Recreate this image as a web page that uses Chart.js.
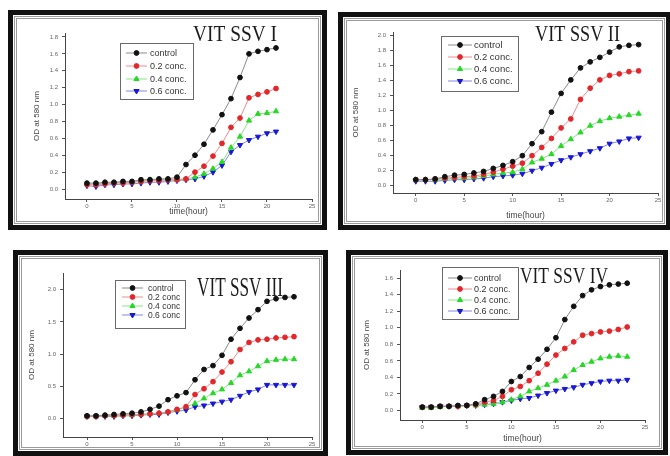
<!DOCTYPE html>
<html>
<head>
<meta charset="utf-8">
<script src="https://cdn.jsdelivr.net/npm/chart.js@4.4.0/dist/chart.umd.min.js"></script>
<style>
  body { margin: 0; width: 670px; height: 456px; background: #fff; position: relative; overflow: hidden; font-family: Arial, 'Liberation Sans', sans-serif; }
  .frame { position: absolute; box-sizing: border-box; border: 5px solid #111; background: #fff; }
  .frame .inner { position: absolute; left: 1px; top: 1px; right: 1px; bottom: 1px; border: 3px double #9a9a9a; }
  canvas { position: absolute; }
</style>
</head>
<body>
<div class="frame" style="left:8px;top:10px;width:319px;height:220px"><div class="inner"></div></div>
<div class="frame" style="left:338px;top:12px;width:333px;height:218px"><div class="inner"></div></div>
<div class="frame" style="left:13px;top:250px;width:315px;height:206px"><div class="inner"></div></div>
<div class="frame" style="left:346px;top:250px;width:322px;height:205px"><div class="inner"></div></div>
<canvas id="c1"></canvas>
<canvas id="c2"></canvas>
<canvas id="c3"></canvas>
<canvas id="c4"></canvas>
<script>
// time points
const hoursA = [0,1,2,3,4,5,6,7,8,9,10,11,12,13,14,15,16,17,18,19,20,21];
const hoursB = [0,1,2,3,4,5,6,7,8,9,10,11,12,13,14,15,16,17,18,19,20,21,22,23];
const xTicks = [0,5,10,15,20,25];

// VIT SSV I
const ssv1Control = [0.07,0.07,0.08,0.08,0.09,0.09,0.11,0.11,0.12,0.12,0.14,0.29,0.40,0.53,0.70,0.88,1.07,1.32,1.60,1.63,1.65,1.67];
const ssv1Conc02 = [0.05,0.05,0.06,0.07,0.07,0.08,0.09,0.10,0.10,0.11,0.11,0.12,0.20,0.27,0.39,0.54,0.73,0.84,1.08,1.12,1.15,1.19];
const ssv1Conc04 = [0.06,0.06,0.07,0.07,0.08,0.08,0.09,0.11,0.11,0.11,0.11,0.12,0.14,0.18,0.24,0.32,0.49,0.62,0.81,0.89,0.90,0.92];
const ssv1Conc06 = [0.04,0.03,0.05,0.05,0.06,0.06,0.07,0.08,0.08,0.09,0.10,0.11,0.12,0.15,0.20,0.28,0.44,0.52,0.58,0.62,0.66,0.68];
const ssv1YTicks = [0,0.2,0.4,0.6,0.8,1.0,1.2,1.4,1.6,1.8];

// VIT SSV II
const ssv2Control = [0.08,0.08,0.09,0.12,0.14,0.15,0.17,0.19,0.23,0.27,0.32,0.40,0.56,0.72,0.98,1.23,1.41,1.57,1.65,1.71,1.78,1.85,1.87,1.88];
const ssv2Conc02 = [0.08,0.08,0.09,0.10,0.11,0.12,0.13,0.15,0.18,0.22,0.26,0.30,0.40,0.51,0.63,0.77,0.89,1.15,1.30,1.41,1.47,1.49,1.52,1.53];
const ssv2Conc04 = [0.08,0.08,0.08,0.09,0.10,0.10,0.11,0.13,0.15,0.17,0.18,0.22,0.31,0.36,0.42,0.53,0.62,0.71,0.80,0.86,0.90,0.92,0.94,0.96];
const ssv2Conc06 = [0.06,0.06,0.06,0.07,0.08,0.08,0.09,0.10,0.12,0.13,0.14,0.16,0.20,0.24,0.29,0.34,0.38,0.42,0.46,0.50,0.56,0.59,0.63,0.64];
const ssv2YTicks = [0,0.2,0.4,0.6,0.8,1.0,1.2,1.4,1.6,1.8,2.0];

// VIT SSV III
const ssv3Control = [0.04,0.04,0.05,0.06,0.07,0.08,0.10,0.14,0.19,0.29,0.35,0.40,0.60,0.76,0.82,0.98,1.23,1.40,1.56,1.69,1.82,1.86,1.88,1.89];
const ssv3Conc02 = [0.03,0.03,0.04,0.04,0.05,0.06,0.06,0.07,0.08,0.10,0.14,0.18,0.37,0.46,0.57,0.72,0.88,1.07,1.18,1.22,1.23,1.25,1.26,1.27];
const ssv3Conc04 = [0.03,0.03,0.04,0.04,0.05,0.05,0.06,0.07,0.08,0.10,0.13,0.18,0.23,0.31,0.39,0.45,0.55,0.67,0.73,0.81,0.89,0.91,0.92,0.92];
const ssv3Conc06 = [0.03,0.03,0.03,0.03,0.04,0.04,0.05,0.06,0.06,0.09,0.11,0.13,0.18,0.20,0.23,0.26,0.29,0.35,0.41,0.45,0.52,0.52,0.52,0.52];
const ssv3YTicks = [0,0.5,1.0,1.5,2.0];

// VIT SSV IV
const ssv4Control = [0.04,0.04,0.05,0.05,0.06,0.06,0.08,0.13,0.17,0.23,0.35,0.41,0.52,0.62,0.74,0.88,1.10,1.26,1.39,1.46,1.50,1.52,1.53,1.54];
const ssv4Conc02 = [0.04,0.04,0.05,0.05,0.05,0.06,0.07,0.10,0.12,0.17,0.25,0.29,0.36,0.45,0.56,0.67,0.75,0.83,0.91,0.93,0.95,0.96,0.98,1.01];
const ssv4Conc04 = [0.03,0.03,0.04,0.05,0.05,0.06,0.06,0.07,0.08,0.10,0.13,0.17,0.23,0.27,0.31,0.36,0.41,0.49,0.55,0.59,0.63,0.65,0.66,0.65];
const ssv4Conc06 = [0.04,0.04,0.05,0.05,0.05,0.06,0.06,0.07,0.08,0.10,0.12,0.14,0.15,0.18,0.21,0.24,0.26,0.28,0.31,0.33,0.35,0.36,0.36,0.37];
const ssv4YTicks = [0,0.2,0.4,0.6,0.8,1.0,1.2,1.4,1.6];

const labelsDot = ['control', '0.2 conc.', '0.4 conc.', '0.6 conc.'];
const labelsNoDot = ['control', '0.2 conc', '0.4 conc', '0.6 conc'];

// series look (Origin defaults)
const styles = [
  { line: '#8a8a8a', mark: '#111111', shape: 'circle', r: 2.4, rot: 0 },
  { line: '#ef8c8c', mark: '#e2262a', shape: 'circle', r: 2.4, rot: 0 },
  { line: '#86e486', mark: '#26d826', shape: 'triangle', r: 3, rot: 0 },
  { line: '#8484ea', mark: '#1818d2', shape: 'triangle', r: 3, rot: 180 },
];

// draws the boxed legend and the big serif title inside the plot
const overlay = {
  id: 'overlay',
  afterDraw(chart, args, o) {
    const ctx = chart.ctx;
    const ox = o.ox, oy = o.oy;
    ctx.save();
    const b = o.box;
    ctx.fillStyle = '#fff';
    ctx.fillRect(b.x - ox, b.y - oy, b.w, b.h);
    ctx.strokeStyle = '#6a6a6a';
    ctx.lineWidth = 1;
    ctx.strokeRect(b.x - ox + 0.5, b.y - oy + 0.5, b.w, b.h);
    ctx.font = o.legendSize + 'px Arial';
    ctx.textBaseline = 'middle';
    chart.data.datasets.forEach((ds, i) => {
      const y = o.rows[i] - oy;
      ctx.strokeStyle = ds.borderColor;
      ctx.lineWidth = 1;
      ctx.beginPath();
      ctx.moveTo(o.lineX[0] - ox, y);
      ctx.lineTo(o.lineX[1] - ox, y);
      ctx.stroke();
      ctx.fillStyle = ds.pointBackgroundColor;
      ctx.strokeStyle = ds.pointBorderColor;
      Chart.helpers.drawPoint(ctx, { pointStyle: ds.pointStyle, rotation: ds.pointRotation, radius: ds.pointRadius, borderWidth: 1 },
        (o.lineX[0] + o.lineX[1]) / 2 - ox, y);
      ctx.fillStyle = '#333';
      ctx.fillText(ds.label, o.textX - ox, y + 0.5);
    });
    const t = o.title;
    ctx.font = t.size + 'px "Liberation Serif", "Times New Roman", serif';
    ctx.textBaseline = 'alphabetic';
    const w = ctx.measureText(t.text).width;
    ctx.translate(t.x - ox, t.base - oy);
    ctx.scale(t.w / w, 1);
    ctx.fillStyle = '#1c1c1c';
    ctx.fillText(t.text, 0, 0);
    ctx.restore();
  }
};

function makeChart(id, p) {
  const cv = document.getElementById(id);
  cv.width = p.canvas.w; cv.height = p.canvas.h;
  cv.style.left = p.canvas.x + 'px'; cv.style.top = p.canvas.y + 'px';
  cv.style.width = p.canvas.w + 'px'; cv.style.height = p.canvas.h + 'px';

  const yTitleSize = 8, xTitleSize = 8.5;
  const padLeft = p.yTitleX - yTitleSize * 1.2 / 2 - p.canvas.x;
  const yW = p.area.l - p.canvas.x - padLeft;
  const padTop = p.area.t - p.canvas.y;
  const padRight = p.canvas.x + p.canvas.w - p.area.r;
  const xH = p.xTitleY ? p.xTitleY + xTitleSize * 1.2 / 2 - p.area.b : 14;
  const padBottom = p.canvas.y + p.canvas.h - p.area.b - xH;

  const datasets = p.series.map((vals, i) => ({
    label: p.labels[i],
    data: vals.map((v, k) => ({ x: p.hours[k], y: v })),
    borderColor: styles[i].line,
    borderWidth: 1,
    pointBackgroundColor: styles[i].mark,
    pointBorderColor: styles[i].mark,
    pointStyle: styles[i].shape,
    pointRadius: styles[i].r,
    pointRotation: styles[i].rot,
    tension: 0,
  }));

  const axisGrid = { display: true, drawOnChartArea: false, drawTicks: true, tickLength: 3, color: '#555' };
  const tickFont = { family: 'Arial', size: 6 };

  new Chart(cv, {
    type: 'line',
    data: { datasets },
    plugins: [overlay],
    options: {
      responsive: false,
      animation: false,
      layout: { padding: { left: padLeft, top: padTop, right: padRight, bottom: padBottom } },
      scales: {
        x: {
          type: 'linear', min: p.xRange[0], max: p.xRange[1],
          afterBuildTicks: s => { s.ticks = xTicks.map(v => ({ value: v })); },
          afterFit: s => { s.height = xH; },
          grid: axisGrid,
          border: { display: true, color: '#444', width: 1 },
          ticks: { font: tickFont, color: '#666', padding: 1, maxRotation: 0, callback: v => String(v) },
          title: { display: !!p.xTitleY, text: 'time(hour)', color: '#444', padding: 0, font: { family: 'Arial', size: xTitleSize } },
        },
        y: {
          min: p.yRange[0], max: p.yRange[1],
          afterBuildTicks: s => { s.ticks = p.yTicks.map(v => ({ value: v })); },
          afterFit: s => { s.width = yW; },
          grid: axisGrid,
          border: { display: true, color: '#444', width: 1 },
          ticks: { font: tickFont, color: '#666', padding: 4, callback: v => v.toFixed(1) },
          title: { display: true, text: 'OD at 580 nm', color: '#444', padding: 0, font: { family: 'Arial', size: yTitleSize } },
        },
      },
      plugins: {
        legend: { display: false },
        tooltip: { enabled: false },
        overlay: Object.assign({ ox: p.canvas.x, oy: p.canvas.y }, p.legend, { title: p.title }),
      },
    },
  });
}

makeChart('c1', {
  canvas: { x: 13, y: 15, w: 309, h: 210 },
  area: { l: 65, r: 312, t: 33, b: 199 },
  yTitleX: 37, xTitleY: 212,
  xRange: [-2.44, 25], yRange: [-0.118, 1.847], yTicks: ssv1YTicks,
  hours: hoursA, series: [ssv1Control, ssv1Conc02, ssv1Conc04, ssv1Conc06], labels: labelsDot,
  legend: { box: { x: 120, y: 43, w: 73, h: 56 }, rows: [53, 66, 79, 91], lineX: [126, 147], textX: 150, legendSize: 9 },
  title: { text: 'VIT SSV I', x: 193, base: 41, w: 84, size: 24 },
});

makeChart('c2', {
  canvas: { x: 343, y: 17, w: 322, h: 208 },
  area: { l: 393, r: 658, t: 32, b: 193 },
  yTitleX: 356, xTitleY: 216,
  xRange: [-2.35, 25], yRange: [-0.097, 2.048], yTicks: ssv2YTicks,
  hours: hoursB, series: [ssv2Control, ssv2Conc02, ssv2Conc04, ssv2Conc06], labels: labelsDot,
  legend: { box: { x: 441, y: 36, w: 77, h: 55 }, rows: [45, 57, 69, 81], lineX: [448, 472], textX: 474, legendSize: 9.5 },
  title: { text: 'VIT SSV II', x: 535, base: 41, w: 85, size: 24 },
});

makeChart('c3', {
  canvas: { x: 18, y: 255, w: 305, h: 196 },
  area: { l: 63, r: 312, t: 273, b: 437 },
  yTitleX: 32, xTitleY: 0,
  xRange: [-2.67, 25], yRange: [-0.29, 2.26], yTicks: ssv3YTicks,
  hours: hoursB, series: [ssv3Control, ssv3Conc02, ssv3Conc04, ssv3Conc06], labels: labelsNoDot,
  legend: { box: { x: 115, y: 280, w: 70, h: 48 }, rows: [288, 297, 306, 315], lineX: [122, 143], textX: 148, legendSize: 8.5 },
  title: { text: 'VIT SSV III', x: 197, base: 296, w: 86, size: 27 },
});

makeChart('c4', {
  canvas: { x: 351, y: 255, w: 312, h: 195 },
  area: { l: 400, r: 645, t: 270, b: 420 },
  yTitleX: 367, xTitleY: 439,
  xRange: [-2.5, 25], yRange: [-0.116, 1.70], yTicks: ssv4YTicks,
  hours: hoursB, series: [ssv4Control, ssv4Conc02, ssv4Conc04, ssv4Conc06], labels: labelsDot,
  legend: { box: { x: 442, y: 267, w: 76, h: 52 }, rows: [278, 289, 300, 311], lineX: [448, 472], textX: 474, legendSize: 9 },
  title: { text: 'VIT SSV IV', x: 520, base: 283, w: 88, size: 24 },
});
</script>
</body>
</html>
